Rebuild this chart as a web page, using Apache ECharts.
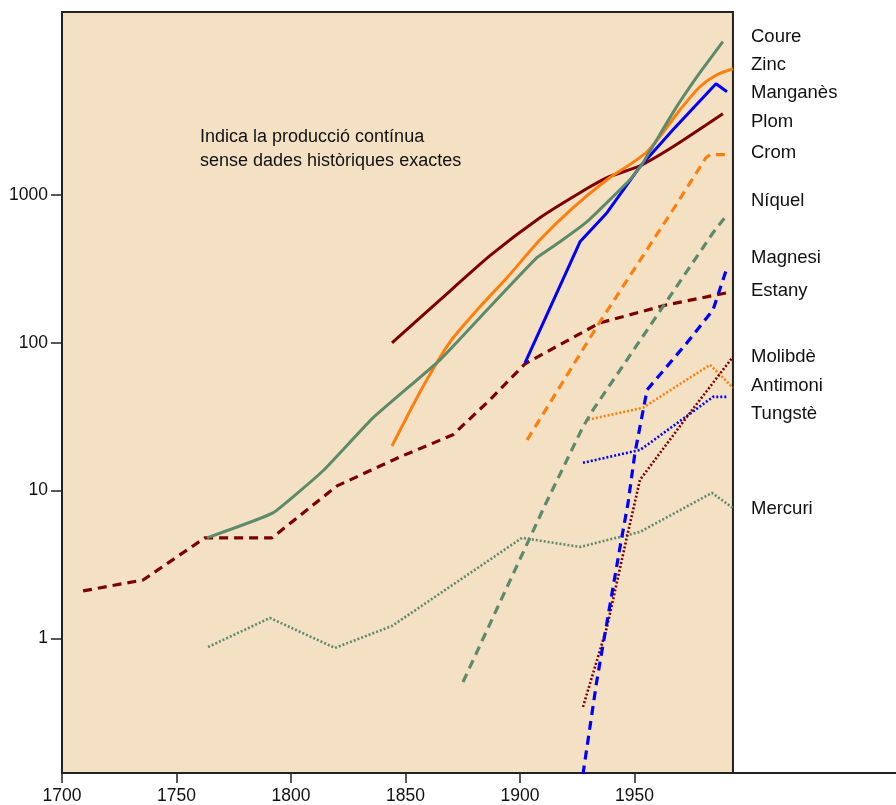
<!DOCTYPE html>
<html>
<head>
<meta charset="utf-8">
<script src="https://cdn.jsdelivr.net/npm/echarts@6/dist/echarts.min.js"></script>
<style>
  html, body { margin: 0; padding: 0; background: #fff; }
  #chart { width: 896px; height: 805px; }
</style>
</head>
<body>
<div id="chart"></div>
<script>
// eixos
var X_MIN = 1700, X_MAX = 2064.2, X_END = 1993;   // X_END = final de la zona acolorida
var Y_MIN = 0.1225, Y_MAX = 17300;
var xTicks = [1700, 1750, 1800, 1850, 1900, 1950];
var yTicks = [1, 10, 100, 1000];

// dades (anys / producció)
var coureYears = [1763.3, 1792.1, 1814.0, 1835.8, 1865.1, 1886.9, 1907.4, 1917.5, 1929.3, 1948.0, 1953.7, 1966.8, 1977.3, 1988.6];
var coureValues = [4.78, 7.05, 13.6, 31.0, 76.6, 175, 376, 482, 659, 1268, 1652, 3606, 6310, 10890];

var zincYears = [1844.1, 1857.6, 1869.4, 1882.5, 1894.3, 1908.7, 1923.1, 1938.0, 1955.5, 1969.9, 1978.6, 1986.0, 1993.0];
var zincValues = [20.0, 50.3, 101, 175, 275, 497, 819, 1268, 1961, 3775, 5400, 6510, 7150];

var manganesYears = [1902.2, 1926.2, 1938.0, 1952.4, 1966.8, 1985.6, 1990.4];
var manganesValues = [73.1, 482, 758, 1552, 2764, 5662, 4997];

var plomYears = [1844.1, 1865.1, 1886.9, 1908.7, 1926.2, 1938.0, 1952.4, 1966.8, 1988.6];
var plomValues = [99.8, 195, 388, 701, 1035, 1308, 1576, 2120, 3546];

var cromYears = [1903.1, 1934.9, 1966.8, 1981.2, 1983.0, 1990.4];
var cromValues = [22.0, 138.5, 794, 1785, 1872, 1872];

var niquelYears = [1875.1, 1911.4, 1927.5, 1931.9, 1984.3, 1990.4];
var niquelValues = [0.506, 8.24, 26.96, 35.1, 555, 734];

var magnesiYears = [1927.5, 1933.6, 1943.7, 1947.2, 1950.2, 1955.5, 1972.9, 1984.3, 1990.4];
var magnesiValues = [0.12, 0.522, 4.15, 8.24, 17.97, 48.0, 99.8, 167, 321.5];

var estanyYears = [1709.2, 1735.4, 1762.4, 1791.7, 1820.1, 1847.6, 1870.7, 1886.9, 1902.2, 1934.9, 1964.2, 1990.4];
var estanyValues = [2.09, 2.48, 4.78, 4.78, 10.74, 16.88, 23.8, 41.1, 72.0, 136.3, 180.6, 217.7];

var molibdeYears = [1927.5, 1938.0, 1946.7, 1952.4, 1972.9, 1993.0];
var molibdeValues = [0.343, 1.193, 4.85, 11.8, 31.5, 80.3];

var antimoniYears = [1929.7, 1953.7, 1983.0, 1993.0];
var antimoniValues = [30.1, 36.3, 70.9, 49.5];

var tungsteYears = [1927.5, 1952.4, 1956.8, 1984.3, 1990.4];
var tungsteValues = [15.4, 18.8, 21.0, 43.0, 43.0];

var mercuriYears = [1763.8, 1790.8, 1819.2, 1844.1, 1900.9, 1926.2, 1952.4, 1983.8, 1993.0];
var mercuriValues = [0.873, 1.372, 0.86, 1.211, 4.78, 4.15, 5.245, 9.63, 7.62];

var labelNames = ['Coure', 'Zinc', 'Manganès', 'Plom', 'Crom', 'Níquel', 'Magnesi', 'Estany', 'Molibdè', 'Antimoni', 'Tungstè', 'Mercuri'];
var labelY = [35, 63, 91, 120, 151, 199, 256, 289, 355, 384, 412, 507];   // centre vertical de cada nom

var FONT = "'Liberation Sans', Arial, sans-serif";
var GREEN = '#5e8a6c', ORANGE = '#ff7f0e', BLUE = '#0000ff', DARKRED = '#7d0000';

function zip(xs, ys) {
  var out = [];
  for (var i = 0; i < xs.length; i++) out.push([xs[i], ys[i]]);
  return out;
}

function linia(name, xs, ys, color, kind, smooth) {
  var st = { color: color, width: 3, type: 'solid', cap: 'butt' };
  if (kind == 'dash') { st.type = [9, 6]; st.width = 3.2; }
  if (kind == 'dot') { st.type = [2, 2]; st.width = 2.6; }
  return {
    name: name,
    type: 'line',
    data: zip(xs, ys),
    showSymbol: false,
    symbol: 'none',
    smooth: smooth || false,
    lineStyle: st,
    itemStyle: { color: color },
    emphasis: { disabled: true },
    z: 3
  };
}

var series = [
  linia('Mercuri', mercuriYears, mercuriValues, GREEN, 'dot'),
  linia('Tungstè', tungsteYears, tungsteValues, BLUE, 'dot'),
  linia('Antimoni', antimoniYears, antimoniValues, ORANGE, 'dot'),
  linia('Molibdè', molibdeYears, molibdeValues, DARKRED, 'dot'),
  linia('Estany', estanyYears, estanyValues, DARKRED, 'dash'),
  linia('Magnesi', magnesiYears, magnesiValues, BLUE, 'dash'),
  linia('Níquel', niquelYears, niquelValues, GREEN, 'dash'),
  linia('Crom', cromYears, cromValues, ORANGE, 'dash'),
  linia('Plom', plomYears, plomValues, DARKRED, 'solid', 0.2),
  linia('Manganès', manganesYears, manganesValues, BLUE, 'solid'),
  linia('Zinc', zincYears, zincValues, ORANGE, 'solid', 0.25),
  linia('Coure', coureYears, coureValues, GREEN, 'solid', 0.12)
];

// fons de la zona de dades
series[0].markArea = {
  silent: true,
  itemStyle: { color: '#f4e1c4', borderColor: '#222', borderWidth: 2 },
  data: [[{ xAxis: X_MIN, yAxis: Y_MIN }, { xAxis: X_END, yAxis: Y_MAX }]]
};

var graphics = [];
for (var i = 0; i < labelNames.length; i++) {
  graphics.push({
    type: 'text', left: 751, top: labelY[i] - 8, z: 100,
    style: { text: labelNames[i], font: '18.5px ' + FONT, fill: '#111' }
  });
}
graphics.push({
  type: 'text', left: 200, top: 125, z: 100,
  style: { text: 'Indica la producció contínua\nsense dades històriques exactes', font: '18px ' + FONT, fill: '#111', lineHeight: 24 }
});

function plain(v) { return String(Math.round(v)); }

var myChart = echarts.init(document.getElementById('chart'), null, { renderer: 'canvas' });
myChart.setOption({
  animation: false,
  backgroundColor: '#fff',
  grid: { left: 62, right: 0, top: 12, bottom: 32, containLabel: false },
  xAxis: {
    type: 'value',
    min: X_MIN,
    max: X_MAX,
    axisLine: { lineStyle: { color: '#222', width: 2 } },
    axisTick: { customValues: xTicks, length: 10, lineStyle: { color: '#222', width: 1.5 } },
    axisLabel: { customValues: xTicks, formatter: plain, margin: 14, color: '#111', fontSize: 17.5, fontFamily: FONT },
    splitLine: { show: false }
  },
  yAxis: {
    type: 'log',
    logBase: 10,
    min: Y_MIN,
    max: Y_MAX,
    axisLine: { show: true, lineStyle: { color: '#222', width: 2 } },
    axisTick: { show: true, customValues: yTicks, length: 11, lineStyle: { color: '#222', width: 1.5 } },
    axisLabel: { customValues: yTicks, formatter: plain, margin: 14, color: '#111', fontSize: 17.5, fontFamily: FONT },
    minorTick: { show: false },
    splitLine: { show: false }
  },
  graphic: graphics,
  series: series
});
</script>
</body>
</html>
